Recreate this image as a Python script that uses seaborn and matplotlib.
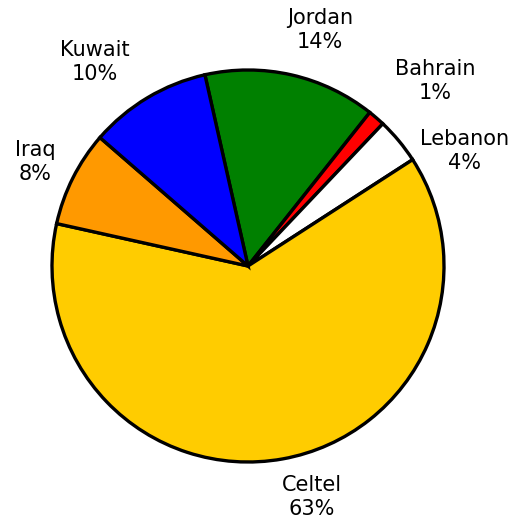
import matplotlib.pyplot as plt
import seaborn as sns
import numpy as np

sns.set_style('white')
plt.rcParams['font.family'] = ['DejaVu Sans']

# dados (ordem no sentido horário a partir do topo)
operadoras = ['Jordan', 'Bahrain', 'Lebanon', 'Celtel', 'Iraq', 'Kuwait']
participacao = [14.2, 1.4, 3.8, 62.6, 7.9, 10.1]
cores = ['#008000', '#FF0000', '#FFFFFF', '#FFCC00', '#FF9900', '#0000FF']

# posição dos rótulos (em unidades do raio, relativo ao centro)
pos_rotulos = [(0.367, 1.204), (0.954, 0.944), (1.107, 0.587),
               (0.327, -1.179), (-1.087, 0.531), (-0.781, 1.041)]

fig = plt.figure(figsize=(5.2, 5.25), dpi=100)
ax = fig.add_axes([0.0, 0.0, 1.0, 1.0])

rotulos = [f'{n}\n{round(v):.0f}%' for n, v in zip(operadoras, participacao)]
wedges, textos = ax.pie(participacao, labels=rotulos, colors=cores,
                        startangle=102.7, counterclock=False,
                        labeldistance=1.25, center=(0, 0), radius=1.0,
                        wedgeprops=dict(edgecolor='black', linewidth=2.4),
                        textprops=dict(fontsize=15, color='black',
                                       linespacing=1.3))
for t, p in zip(textos, pos_rotulos):
    t.set_position(p)
    t.set_ha('center')
    t.set_va('center')

# pixels: centro em (248, 266), raio 196
ax.set_xlim(-248 / 196, (520 - 248) / 196)
ax.set_ylim(-(525 - 266) / 196, 266 / 196)
ax.set_aspect('equal')
ax.axis('off')

fig.savefig('out.png', dpi=100)
